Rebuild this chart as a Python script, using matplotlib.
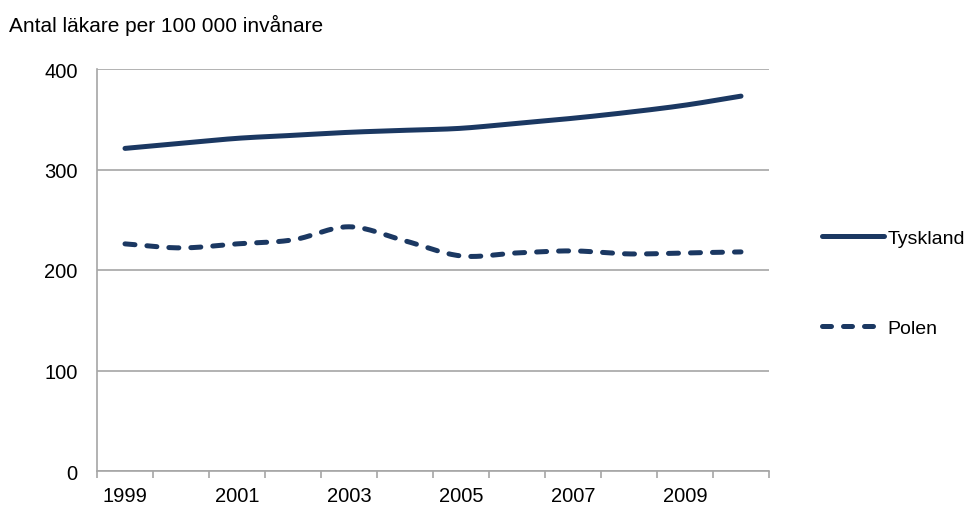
import numpy as np
import matplotlib.pyplot as plt
from matplotlib.lines import Line2D

plt.rcParams['font.family'] = ['Liberation Sans', 'DejaVu Sans']

#######################################
# DATA
#######################################
years = list(range(1999, 2011))
tyskland = [321, 326, 331, 334, 337, 339, 341, 346, 351, 357, 364, 373]
polen = [226, 222, 226, 230, 243, 229, 214, 217, 219, 216, 217, 218]

ylabel = "Antal läkare per 100 000 invånare"
navy = '#1B3862'
grid_grey = '#A6A6A6'


def smooth(x, y, n=30):
    # Catmull-Rom style smoothing between points (like a smoothed spreadsheet line)
    x = np.asarray(x, float)
    y = np.asarray(y, float)
    px = np.concatenate([[2 * x[0] - x[1]], x, [2 * x[-1] - x[-2]]])
    py = np.concatenate([[2 * y[0] - y[1]], y, [2 * y[-1] - y[-2]]])
    xs, ys = [], []
    for i in range(1, len(px) - 2):
        p0, p1, p2, p3 = (np.array([px[j], py[j]]) for j in range(i - 1, i + 3))
        c1 = p1 + (p2 - p0) / 6
        c2 = p2 - (p3 - p1) / 6
        t = np.linspace(0, 1, n)[:, None]
        b = ((1 - t) ** 3) * p1 + 3 * ((1 - t) ** 2) * t * c1 + 3 * (1 - t) * t ** 2 * c2 + t ** 3 * p2
        xs.append(b[:, 0])
        ys.append(b[:, 1])
    return np.concatenate(xs), np.concatenate(ys)


fig = plt.figure(figsize=(9.75, 5.06), dpi=100)
ax = fig.add_axes([97 / 975, 1 - 472 / 506, 672 / 975, 402 / 506])

pos = np.arange(len(years))
lw = 3.6
dash = (0, (2.0, 2.4))

sx, sy = smooth(pos, tyskland)
ax.plot(sx, sy, color=navy, lw=lw, solid_capstyle='round', label='Tyskland')
sx, sy = smooth(pos, polen)
ax.plot(sx, sy, color=navy, lw=lw, linestyle=dash,
        dash_capstyle='round', label='Polen')

ax.set_xlim(-0.5, len(years) - 0.5)
ax.set_ylim(0, 400)
ax.set_yticks([0, 100, 200, 300, 400])
ax.yaxis.grid(True, color=grid_grey, lw=1.2)
ax.set_axisbelow(True)

# category ticks between years, labels on every second year
ax.set_xticks(np.arange(-0.5, len(years)), minor=False)
ax.set_xticklabels([])
ax.set_xticks(pos[::2], minor=True)
ax.set_xticklabels([str(y) for y in years[::2]], minor=True)
ax.tick_params(axis='x', which='major', length=5, color=grid_grey, width=1.2, direction='out')
ax.tick_params(axis='x', which='minor', length=0, pad=10.5, labelsize=14.5)
ax.tick_params(axis='y', length=0, pad=14, labelsize=14.5)

for side in ['top', 'right']:
    ax.spines[side].set_visible(False)
for side in ['left', 'bottom']:
    ax.spines[side].set_color(grid_grey)
    ax.spines[side].set_linewidth(1.2)

fig.text(9 / 975, 1 - 25 / 506, ylabel, fontsize=15, va='center', ha='left')

handles = [Line2D([], [], color=navy, lw=lw, solid_capstyle='round'),
           Line2D([], [], color=navy, lw=lw, linestyle=(0, (1.8, 2.4)), dash_capstyle='round')]
fig.legend(handles, ['Tyskland', 'Polen'], loc='center left',
           bbox_to_anchor=(804 / 975, 1 - 284 / 506), frameon=False, fontsize=14,
           handlelength=3.2, handletextpad=0.2, labelspacing=3.75)

fig.savefig('out.png', dpi=100)
